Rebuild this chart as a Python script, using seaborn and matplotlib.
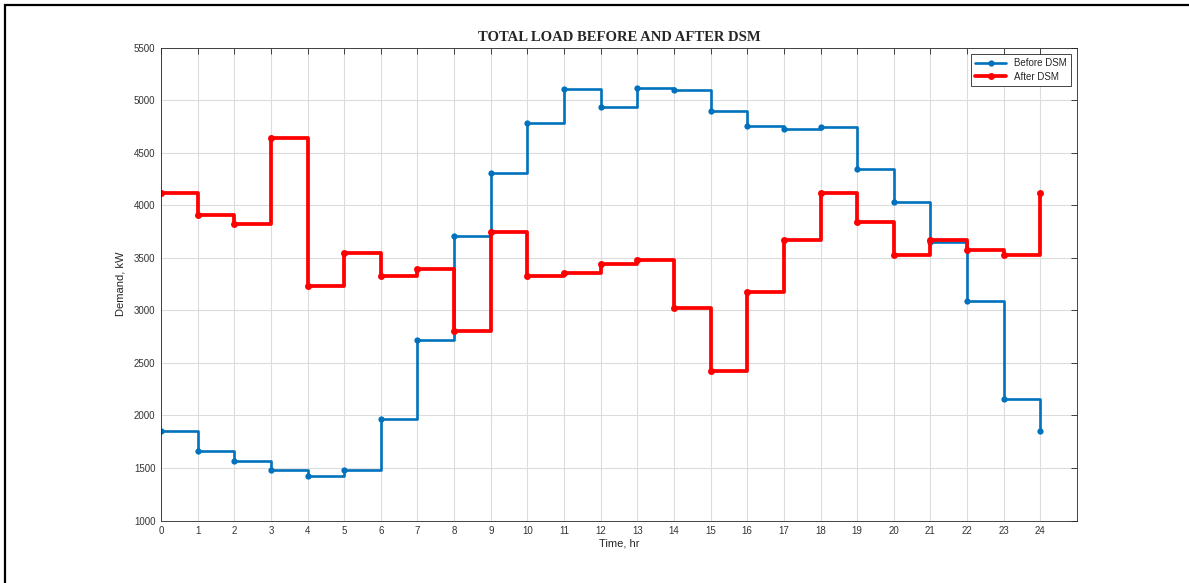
import matplotlib
matplotlib.use("Agg")
import matplotlib.pyplot as plt
import matplotlib.patches as mpatches
import numpy as np
import pandas as pd
import seaborn as sns

# Hourly demand profile, kW
hours = list(range(25))
before_dsm = [1850, 1665, 1565, 1478, 1425, 1480, 1967, 2716, 3705, 4310,
              4788, 5106, 4937, 5122, 5103, 4902, 4759, 4724, 4746, 4344,
              4032, 3650, 3095, 2159, 1849]
after_dsm = [4118, 3914, 3822, 4644, 3229, 3548, 3328, 3395, 2809, 3752,
             3328, 3353, 3443, 3478, 3019, 2423, 3178, 3675, 4121, 3841,
             3529, 3672, 3576, 3529, 4121]

x_ticks = list(range(25))
y_ticks = list(range(1000, 5501, 500))

sns.set_theme(style="white")
plt.rcParams["font.family"] = ["Liberation Sans", "DejaVu Sans"]

df = pd.DataFrame({"hour": hours, "before": before_dsm, "after": after_dsm})

fig = plt.figure(figsize=(11.89, 5.83), dpi=100)
ax = fig.add_axes([0.1354, 0.1072, 0.7704, 0.8105])

sns.lineplot(data=df, x="hour", y="before", ax=ax, color="#0072BD",
             linewidth=1.9, marker="o", markersize=4.5, markeredgewidth=0,
             drawstyle="steps-post", label="Before DSM")
sns.lineplot(data=df, x="hour", y="after", ax=ax, color="#FF0000",
             linewidth=2.7, marker="o", markersize=5, markeredgewidth=0,
             drawstyle="steps-post", label="After DSM")

ax.set_xlim(0, 25)
ax.set_ylim(1000, 5500)
ax.set_xticks(x_ticks)
ax.set_yticks(y_ticks)
ax.grid(True, color="#dcdcdc", linewidth=0.8)
ax.set_axisbelow(True)

for side in ["top", "right", "bottom", "left"]:
    ax.spines[side].set_visible(True)
    ax.spines[side].set_color("#262626")
    ax.spines[side].set_linewidth(0.6)

ax.tick_params(axis="both", direction="in", length=4, width=0.6,
               color="#262626", labelsize=7, labelcolor="#333333",
               top=True, right=True, pad=4)

ax.set_xlabel("Time, hr", fontsize=8, color="#262626", labelpad=2)
ax.set_ylabel("Demand, kW", fontsize=8, color="#262626", labelpad=6)
ax.set_title("TOTAL LOAD BEFORE AND AFTER DSM", fontsize=10.5,
             fontweight="bold", family=["Liberation Serif", "DejaVu Serif"],
             pad=5)

leg = ax.legend(loc="upper right", fontsize=7, frameon=True, fancybox=False,
                edgecolor="#262626", framealpha=1, borderpad=0.45,
                handlelength=3.2, labelspacing=0.35, borderaxespad=0.6)
leg.get_frame().set_linewidth(0.6)

# Cell border along the top and left edges
fig.add_artist(mpatches.Rectangle((0.0045, -0.1), 1.2, 1.0914, transform=fig.transFigure,
                                  fill=False, edgecolor="black", linewidth=1.6))

fig.savefig("out.png", dpi=100)
